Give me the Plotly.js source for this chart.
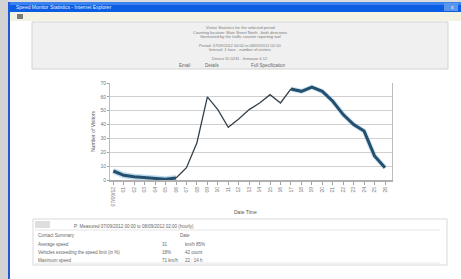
<!DOCTYPE html>
<html>
<head>
<meta charset="utf-8">
<script src="https://cdn.plot.ly/plotly-3.0.1.min.js"></script>
<style>html,body{margin:0;padding:0;background:#fff;}#chart{width:461px;height:279px;}</style>
</head>
<body>
<div id="chart"></div>
<script>
// ---- data ----
var tickLabels = ["07/09/12","01","02","03","04","05","06","07","08","09","10","11","12","13","14","15","16","17","18","19","20","21","22","23","24","25","26"];
var visitors = [6.5,3.4,2.4,1.7,1.0,0.5,1.4,8.9,26.9,60,50.8,38,44,50.8,55.6,61.6,55.6,65.7,64,67,64,56.8,47.2,40,35.3,17.3,8.9];
var yTicks = [0,10,20,30,40,50,60,70];
var headerLines = [
  "Visitor Statistics for the selected period",
  "Counting location: Main Street North - both directions",
  "Generated by the traffic counter reporting tool",
  "Period: 07/09/2012 00:00 to 08/09/2012 02:00",
  "Interval: 1 hour - number of visitors",
  "Device ID 0231 - firmware 4.12"
];
var headerLinks = ["Email", "Details", "Full Specification"];
var panelTitle = "P: Measured 07/09/2012 00:00 to 08/09/2012 02:00 (hourly)";
var panelRows = [
  ["Contact Summary", "", "Date"],
  ["Average speed", "31", "km/h 85%"],
  ["Vehicles exceeding the speed limit (in %)", "18%", "42 count"],
  ["Maximum speed", "71 km/h", "22 : 14 h"]
];

// ---- layout geometry (pixels) ----
var W = 461, H = 279, L = 110, R = 392, T = 83, B = 180;
function px(x){ return (x - L) / (R - L); }
function py(y){ return 1 - (y - T) / (B - T); }

var xs = visitors.map(function(_, i){ return i; });
function seg(a, b){ return {x: xs.slice(a, b + 1), y: visitors.slice(a, b + 1)}; }
var sA = seg(0, 6), sB = seg(6, 17), sC = seg(17, 26);

var traces = [
  {x: sA.x, y: sA.y, mode: "lines", line: {color: "rgba(150,195,225,0.6)", width: 6}, hoverinfo: "skip"},
  {x: sC.x, y: sC.y, mode: "lines", line: {color: "rgba(150,195,225,0.45)", width: 5}, hoverinfo: "skip"},
  {x: sA.x, y: sA.y, mode: "lines", line: {color: "#24506e", width: 3}},
  {x: sB.x, y: sB.y, mode: "lines", line: {color: "#34414b", width: 1.3}},
  {x: sC.x, y: sC.y, mode: "lines", line: {color: "#24506e", width: 3}}
];

function rect(x0, y0, x1, y1, fill, line){
  return {type: "rect", xref: "paper", yref: "paper", layer: "below",
    x0: px(x0), x1: px(x1), y0: py(y1), y1: py(y0),
    fillcolor: fill, line: {color: line || fill, width: line ? 1 : 0}};
}
function hline(x0, x1, y, color){
  return {type: "line", xref: "paper", yref: "paper", layer: "below",
    x0: px(x0), x1: px(x1), y0: py(y), y1: py(y), line: {color: color, width: 1}};
}
function txt(x, y, s, size, color, anchor, extra){
  var a = {xref: "paper", yref: "paper", x: px(x), y: py(y), text: s, showarrow: false,
    xanchor: anchor || "center", yanchor: "middle",
    font: {family: "Liberation Sans, Arial, sans-serif", size: size, color: color}};
  if (extra) for (var k in extra) a[k] = extra[k];
  return a;
}

var shapes = [
  rect(0, 0, 8, 279, "#d3d3d3"),
  rect(8, 0, 461, 2, "#dcdcdc"),
  rect(8, 2, 461, 12, "#0b5de3"),
  rect(8, 2, 461, 5, "#3a82f0"),
  rect(8, 2, 10, 279, "#1e5ad6"),
  rect(444, 3, 458, 11, "#5c95ee"),
  rect(10, 12, 461, 21, "#f4f2e3"),
  rect(17, 14, 23, 19, "#7a7a7a"),
  rect(32, 22, 448, 69, "#f0f0f0", "#d2d2d2"),
  rect(33, 219, 447, 265, "#ffffff", "#d9d9d9"),
  rect(35, 221, 50, 228, "#dedede"),
  hline(35, 440, 230, "#e4e4e4"),
  hline(35, 440, 263, "#e8e8e8")
];

var ann = [
  txt(14, 7, "Speed Monitor Statistics - Internet Explorer", 5, "#e8f0ff", "left"),
  txt(452, 7, "x", 5, "#ffffff", "center"),
  txt(245, 212, "Date Time", 5, "#555555"),
  txt(93, 131, "Number of Visitors", 5, "#555555", "center", {textangle: -90}),
  txt(72, 226, panelTitle, 4.5, "#666666", "left")
];
var hy = [27, 32, 37, 45, 50, 58];
headerLines.forEach(function(s, i){ ann.push(txt(240, hy[i], s, 4, "#7a7a7a")); });
ann.push(txt(184, 65, headerLinks[0], 4.5, "#666666"));
ann.push(txt(212, 65, headerLinks[1], 4.5, "#666666"));
ann.push(txt(268, 65, headerLinks[2], 4.5, "#666666"));
var ry = [235, 244, 252, 260];
panelRows.forEach(function(r, i){
  ann.push(txt(36, ry[i], r[0], 4.5, "#666666", "left"));
  ann.push(txt(160, ry[i], r[1], 4.5, "#666666", "left"));
  ann.push(txt(i === 0 ? 178 : 183, ry[i], r[2], 4.5, "#666666", "left"));
});

var layout = {
  width: W, height: H,
  margin: {l: L, r: W - R, t: T, b: H - B, pad: 0},
  paper_bgcolor: "#ffffff", plot_bgcolor: "#ffffff",
  showlegend: false,
  xaxis: {range: [-0.32, 26.67], tickvals: xs, ticktext: tickLabels, tickangle: -90,
    showgrid: false, zeroline: false, showline: true, linecolor: "#b0b0b0", linewidth: 2,
    ticks: "outside", ticklen: 3, tickcolor: "#a0a0a0",
    tickfont: {family: "Liberation Sans, Arial, sans-serif", size: 5, color: "#777777"}, fixedrange: true},
  yaxis: {range: [0, 70], tickvals: yTicks, showgrid: true, gridcolor: "#d0d0d0", gridwidth: 1,
    zeroline: false, showline: true, linecolor: "#bdbdbd", mirror: true,
    ticks: "outside", ticklen: 2, tickcolor: "#a0a0a0",
    tickfont: {family: "Liberation Sans, Arial, sans-serif", size: 5, color: "#777777"}, fixedrange: true},
  shapes: shapes,
  annotations: ann
};

Plotly.newPlot("chart", traces, layout, {displayModeBar: false, staticPlot: true});
</script>
</body>
</html>
